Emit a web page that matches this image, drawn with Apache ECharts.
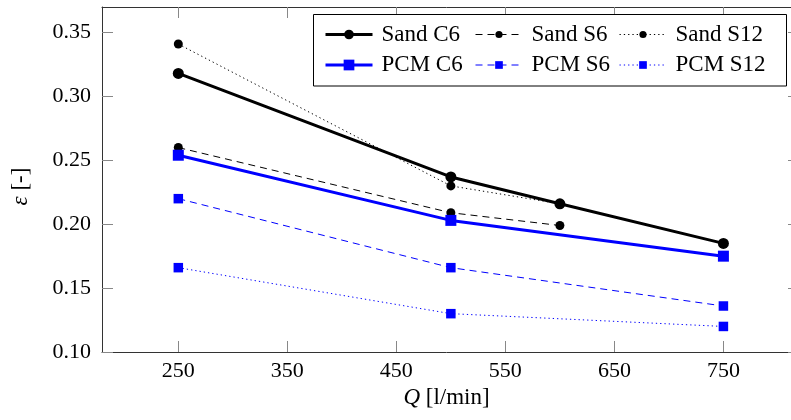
<!DOCTYPE html>
<html><head><meta charset="utf-8">
<script src="https://cdn.jsdelivr.net/npm/echarts@6/dist/echarts.min.js"></script>
<style>html,body{margin:0;padding:0;background:#fff}#c{width:791px;height:420px}</style>
</head><body><div id="c"></div>
<script>
const sandC6X = [250, 500, 600, 750];
const sandC6Y = [0.318, 0.237, 0.216, 0.185];
const sandS6X = [250, 500, 600];
const sandS6Y = [0.260, 0.209, 0.199];
const sandS12X = [250, 500, 600];
const sandS12Y = [0.341, 0.230, 0.216];
const pcmX = [250, 500, 750];
const pcmC6Y = [0.254, 0.203, 0.175];
const pcmS6Y = [0.220, 0.166, 0.136];
const pcmS12Y = [0.166, 0.130, 0.120];
const xTicks = [250, 350, 450, 550, 650, 750];
const yTicks = [0.10, 0.15, 0.20, 0.25, 0.30, 0.35];

const FF = 'Liberation Serif';
const FS = 22;
const zip = (xs, ys) => xs.map((x, i) => [x, ys[i]]);
const DASH = [7, 5];
const DOT = [1.3, 3];

function legendItem(name, left, top, ih, lw) {
  return {
    data: [name], left: left, top: top, orient: 'horizontal', padding: 0,
    itemWidth: 47, itemHeight: ih, itemGap: 0, selectedMode: false, z: 20,
    textStyle: { fontFamily: FF, fontSize: 23, color: '#000', padding: [0, 0, 0, 4] },
    lineStyle: { width: lw }
  };
}

const axisLineStyle = { color: '#333', width: 1 };
const tickStyle = { color: '#888', width: 1 };

const option = {
  animation: false,
  backgroundColor: '#fff',
  grid: { left: 102, right: -1, top: 7, bottom: 68 },
  xAxis: [{
    type: 'value', min: 180, max: 812, position: 'bottom',
    axisLine: { show: true, lineStyle: axisLineStyle },
    axisTick: { show: true, inside: true, length: 11, lineStyle: tickStyle, customValues: xTicks },
    axisLabel: { customValues: xTicks, fontFamily: FF, fontSize: FS, color: '#000', margin: 8 },
    splitLine: { show: false },
    name: '{i|Q} [l/min]', nameLocation: 'middle', nameGap: 30,
    nameTextStyle: { fontFamily: FF, fontSize: 23, color: '#000',
      rich: { i: { fontFamily: FF, fontSize: 23, fontStyle: 'italic', color: '#000' } } }
  }, {
    type: 'value', min: 180, max: 812, position: 'top',
    axisLine: { show: true, lineStyle: axisLineStyle },
    axisTick: { show: true, inside: true, length: 11, lineStyle: tickStyle, customValues: xTicks },
    axisLabel: { show: false },
    splitLine: { show: false }
  }],
  yAxis: [{
    type: 'value', min: 0.10, max: 0.37, position: 'left',
    axisLine: { show: true, lineStyle: axisLineStyle },
    axisTick: { show: true, inside: true, length: 11, lineStyle: tickStyle, customValues: yTicks },
    axisLabel: { customValues: yTicks, fontFamily: FF, fontSize: FS, color: '#000', margin: 11,
      formatter: v => v.toFixed(2) },
    splitLine: { show: false },
    name: '{i|ε} [-]', nameLocation: 'middle', nameGap: 70, nameRotate: 90,
    nameTextStyle: { fontFamily: FF, fontSize: 23, color: '#000', padding: [0, 14, 0, 0],
      rich: { i: { fontFamily: FF, fontSize: 23, fontStyle: 'italic', color: '#000' } } }
  }, {
    type: 'value', min: 0.10, max: 0.37, position: 'right',
    axisLine: { show: true, lineStyle: axisLineStyle },
    axisTick: { show: true, inside: true, length: 3, lineStyle: tickStyle, customValues: yTicks },
    axisLabel: { show: false },
    splitLine: { show: false }
  }],
  graphic: [{
    type: 'rect', z: 10,
    shape: { x: 313.5, y: 14.5, width: 473, height: 71.5 },
    style: { fill: '#fff', stroke: '#000', lineWidth: 1 }
  }],
  legend: [
    legendItem('Sand C6', 324, 23, 12, 3),
    legendItem('Sand S6', 475, 23, 9, 1),
    legendItem('Sand S12', 619, 23, 9, 1),
    legendItem('PCM C6', 324, 53.5, 13.4, 3),
    legendItem('PCM S6', 475, 53.5, 9.6, 1),
    legendItem('PCM S12', 619, 53.5, 9.6, 1)
  ],
  series: [
    { type: 'line', name: 'Sand C6', data: zip(sandC6X, sandC6Y), symbol: 'circle', symbolSize: 11,
      lineStyle: { color: '#000', width: 3 }, itemStyle: { color: '#000' } },
    { type: 'line', name: 'Sand S6', data: zip(sandS6X, sandS6Y), symbol: 'circle', symbolSize: 9,
      lineStyle: { color: '#000', width: 1, type: DASH }, itemStyle: { color: '#000' } },
    { type: 'line', name: 'Sand S12', data: zip(sandS12X, sandS12Y), symbol: 'circle', symbolSize: 9,
      lineStyle: { color: '#000', width: 1, type: DOT }, itemStyle: { color: '#000' } },
    { type: 'line', name: 'PCM C6', data: zip(pcmX, pcmC6Y), symbol: 'rect', symbolSize: 11,
      lineStyle: { color: '#0000ff', width: 3 }, itemStyle: { color: '#0000ff' } },
    { type: 'line', name: 'PCM S6', data: zip(pcmX, pcmS6Y), symbol: 'rect', symbolSize: 9.5,
      lineStyle: { color: '#0000ff', width: 1, type: DASH }, itemStyle: { color: '#0000ff' } },
    { type: 'line', name: 'PCM S12', data: zip(pcmX, pcmS12Y), symbol: 'rect', symbolSize: 9.5,
      lineStyle: { color: '#0000ff', width: 1, type: DOT }, itemStyle: { color: '#0000ff' } }
  ]
};
const chart = echarts.init(document.getElementById('c'), null, { renderer: 'canvas' });
chart.setOption(option);
</script></body></html>
